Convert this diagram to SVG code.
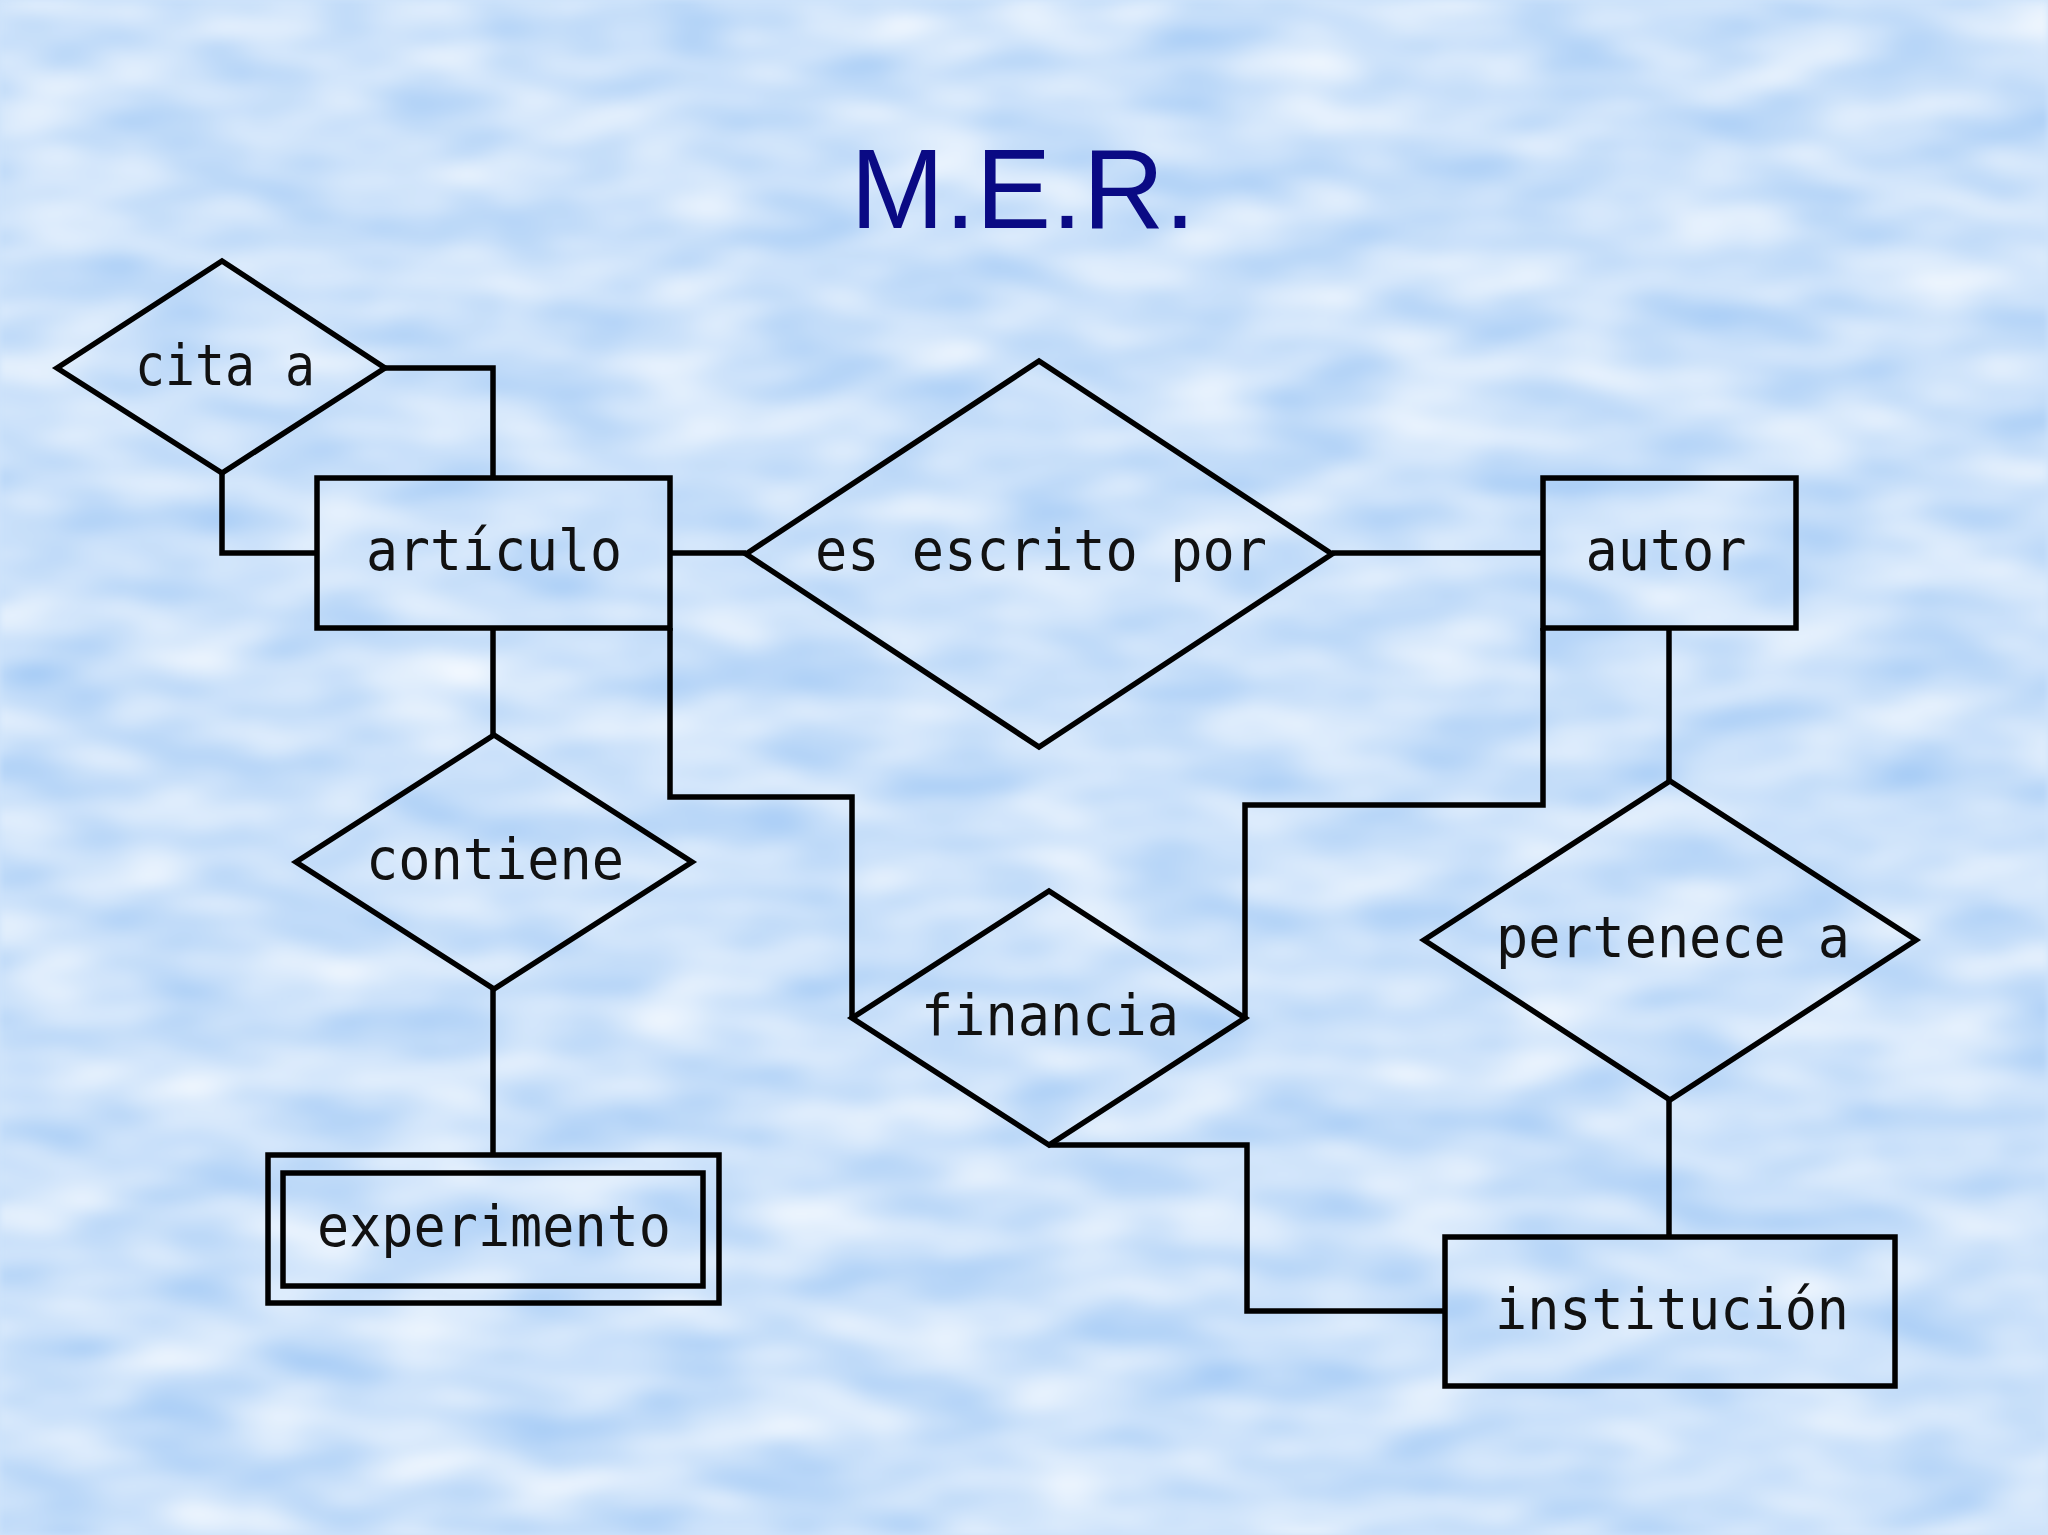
<svg xmlns="http://www.w3.org/2000/svg" width="2048" height="1535" viewBox="0 0 2048 1535">
<defs>
<filter id="clouds" x="0" y="0" width="2048" height="1535" filterUnits="userSpaceOnUse" color-interpolation-filters="sRGB">
<feTurbulence type="fractalNoise" baseFrequency="0.008 0.02" numOctaves="2" seed="7" result="n"/>
<feColorMatrix in="n" type="matrix" values="0.36 0 0 0 0.62  0.21 0 0 0 0.78  0.04 0 0 0 0.96  0 0 0 0 1"/>
<feGaussianBlur stdDeviation="3"/>
</filter>
<style>
.shape{fill:none;stroke:#000;stroke-width:5.5;stroke-linejoin:miter}
.conn{fill:none;stroke:#000;stroke-width:5.5;stroke-linejoin:miter}
.lbl{font-family:"DejaVu Sans Mono","Liberation Mono",monospace;font-size:57px;fill:#111;text-anchor:middle}
.title{font-family:"Liberation Sans",Arial,sans-serif;font-size:113px;fill:#0a0a84;text-anchor:middle}
</style>
</defs>
<rect x="0" y="0" width="2048" height="1535" fill="#cfe4fa"/>
<rect x="0" y="0" width="2048" height="1535" filter="url(#clouds)"/>
<text class="title" x="1023" y="228">M.E.R.</text>
<g id="connectors">
<path class="conn" d="M385,368 H493 V478"/>
<path class="conn" d="M222,473 V553 H317"/>
<path class="conn" d="M670,553 H746"/>
<path class="conn" d="M1332,553 H1543"/>
<path class="conn" d="M493,628 V735"/>
<path class="conn" d="M493,989 V1155"/>
<path class="conn" d="M670,628 V797 H852 V1017"/>
<path class="conn" d="M1543,628 V805 H1245 V1017"/>
<path class="conn" d="M1669,628 V781"/>
<path class="conn" d="M1669,1100 V1237"/>
<path class="conn" d="M1049,1145 H1247 V1311 H1445"/>
</g>
<g id="cita_a">
<polygon class="shape" points="57,368 222,261 385,368 222,473"/>
<text class="lbl" x="225" y="385" textLength="180" lengthAdjust="spacingAndGlyphs">cita a</text>
</g>
<g id="articulo">
<rect class="shape" x="317" y="478" width="353" height="150"/>
<text class="lbl" x="494" y="570" textLength="256" lengthAdjust="spacingAndGlyphs">artículo</text>
</g>
<g id="es_escrito_por">
<polygon class="shape" points="746,554 1039,361 1332,554 1039,747"/>
<text class="lbl" x="1041" y="570" textLength="452" lengthAdjust="spacingAndGlyphs">es escrito por</text>
</g>
<g id="autor">
<rect class="shape" x="1543" y="478" width="253" height="150"/>
<text class="lbl" x="1666" y="570" textLength="161" lengthAdjust="spacingAndGlyphs">autor</text>
</g>
<g id="contiene">
<polygon class="shape" points="296,862 494,735 692,862 494,989"/>
<text class="lbl" x="495" y="879" textLength="258" lengthAdjust="spacingAndGlyphs">contiene</text>
</g>
<g id="experimento">
<rect class="shape" x="268" y="1155" width="451" height="148"/>
<rect class="shape" x="283" y="1173" width="420" height="113"/>
<text class="lbl" x="494" y="1246" textLength="354" lengthAdjust="spacingAndGlyphs">experimento</text>
</g>
<g id="financia">
<polygon class="shape" points="852,1018 1049,891 1245,1018 1049,1145"/>
<text class="lbl" x="1050" y="1035" textLength="258" lengthAdjust="spacingAndGlyphs">financia</text>
</g>
<g id="pertenece_a">
<polygon class="shape" points="1424,940 1670,781 1916,940 1670,1100"/>
<text class="lbl" x="1673" y="957" textLength="354" lengthAdjust="spacingAndGlyphs">pertenece a</text>
</g>
<g id="institucion">
<rect class="shape" x="1445" y="1237" width="450" height="149"/>
<text class="lbl" x="1672" y="1329" textLength="354" lengthAdjust="spacingAndGlyphs">institución</text>
</g>
</svg>
